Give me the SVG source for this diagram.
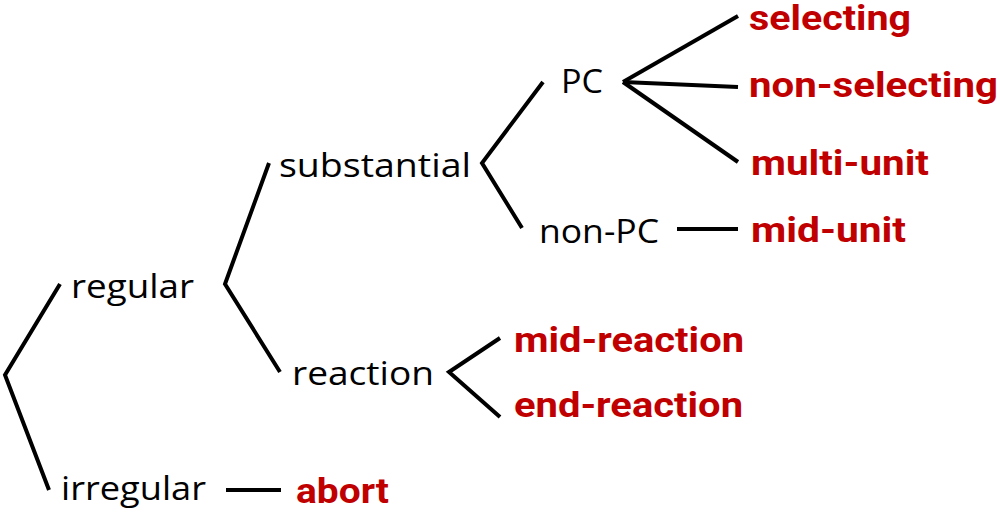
<svg xmlns="http://www.w3.org/2000/svg" width="1000" height="513" viewBox="0 0 1000 513">
<style>
.k{font-family:"Open Sans","Noto Sans",sans-serif;font-size:32px;fill:#000}
.r{font-family:Roboto,"Liberation Sans",sans-serif;font-weight:700;font-size:35px;fill:#C00000}
.c{stroke:#000;stroke-width:4;fill:none;stroke-linecap:butt;stroke-linejoin:miter}
</style>
<rect width="1000" height="513" fill="#fff"/>
<g id="connectors" class="c">
<polyline points="60,284 5,375 49,490"/>
<polyline points="269,163 225,284 280,372"/>
<polyline points="543,82 482,163 522,228"/>
<polyline points="500,338 449,372 500,417"/>
<line x1="623" y1="82" x2="738" y2="16"/>
<line x1="623" y1="82" x2="738" y2="87"/>
<line x1="623" y1="82" x2="738" y2="162"/>
<line x1="677" y1="229" x2="738" y2="229"/>
<line x1="226" y1="490" x2="281" y2="490"/>
</g>
<g id="regular"><text class="k" x="71" y="298" textLength="123" lengthAdjust="spacingAndGlyphs">regular</text></g>
<g id="irregular"><text class="k" x="61" y="500" textLength="145" lengthAdjust="spacingAndGlyphs">irregular</text></g>
<g id="substantial"><text class="k" x="279" y="177" textLength="192" lengthAdjust="spacingAndGlyphs">substantial</text></g>
<g id="reaction"><text class="k" x="292" y="385" textLength="142" lengthAdjust="spacingAndGlyphs">reaction</text></g>
<g id="PC"><text class="k" x="561" y="93" textLength="42" lengthAdjust="spacingAndGlyphs">PC</text></g>
<g id="non-PC"><text class="k" x="539" y="243" textLength="120" lengthAdjust="spacingAndGlyphs">non-PC</text></g>
<g id="selecting"><text class="r" x="749" y="30" textLength="162" lengthAdjust="spacingAndGlyphs">selecting</text></g>
<g id="non-selecting"><text class="r" x="749" y="97" textLength="249" lengthAdjust="spacingAndGlyphs">non-selecting</text></g>
<g id="multi-unit"><text class="r" x="751" y="175" textLength="178" lengthAdjust="spacingAndGlyphs">multi-unit</text></g>
<g id="mid-unit"><text class="r" x="751" y="242" textLength="155" lengthAdjust="spacingAndGlyphs">mid-unit</text></g>
<g id="mid-reaction"><text class="r" x="514" y="352" textLength="230" lengthAdjust="spacingAndGlyphs">mid-reaction</text></g>
<g id="end-reaction"><text class="r" x="514" y="417" textLength="229" lengthAdjust="spacingAndGlyphs">end-reaction</text></g>
<g id="abort"><text class="r" x="296" y="503" textLength="93" lengthAdjust="spacingAndGlyphs">abort</text></g>
</svg>
